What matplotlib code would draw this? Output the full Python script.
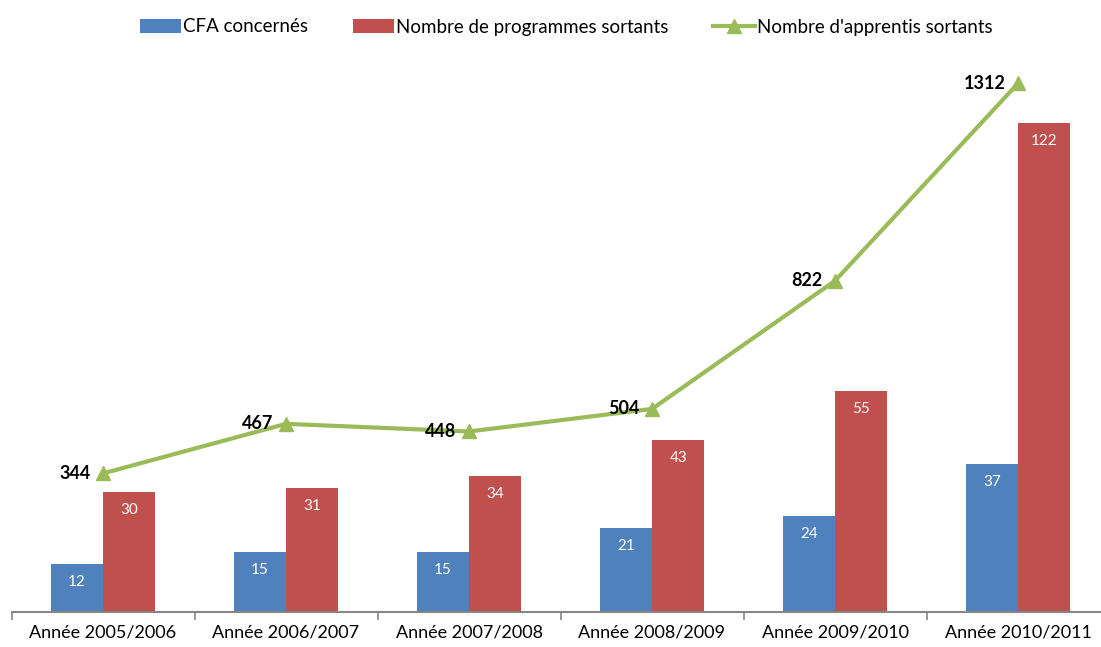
import numpy as np
import matplotlib.pyplot as plt

plt.rcParams['font.family'] = ['Lato', 'DejaVu Sans']

categories = ['Année 2005/2006', 'Année 2006/2007', 'Année 2007/2008',
              'Année 2008/2009', 'Année 2009/2010', 'Année 2010/2011']
cfa = [12, 15, 15, 21, 24, 37]
programmes = [30, 31, 34, 43, 55, 122]
apprentis = [344, 467, 448, 504, 822, 1312]

blue = '#4F81BD'
red = '#C0504D'
green = '#9BBB59'

fig = plt.figure(figsize=(11.01, 6.47), dpi=100)
W, H = 1101, 647
ax = fig.add_axes([11.5 / W, 35 / H, 1098 / W, 552 / H])
ax2 = ax.twinx()

x = np.arange(len(categories))
bw = 0.286
b1 = ax.bar(x - bw / 2, cfa, bw, color=blue, label='CFA concernés')
b2 = ax.bar(x + bw / 2, programmes, bw, color=red, label='Nombre de programmes sortants')
ax.set_xlim(-0.5, 5.5)
ax.set_ylim(0, 137.6)

for rect, v in zip(list(b1) + list(b2), cfa + programmes):
    ax.text(rect.get_x() + rect.get_width() / 2, v - 4.5, str(v),
            ha='center', va='center', color='white', fontsize=11)

ln, = ax2.plot(x, apprentis, color=green, lw=3, marker='^', markersize=10,
               label="Nombre d'apprentis sortants")
ax2.set_ylim(0, 1370)
for xi, v in zip(x, apprentis):
    ax2.annotate(str(v), (xi, v), xytext=(-9, 0), textcoords='offset points',
                 ha='right', va='center', fontsize=13, fontweight='bold', color='black')

for a in (ax, ax2):
    for s in ['top', 'left', 'right']:
        a.spines[s].set_visible(False)
    a.set_yticks([])
ax2.spines['bottom'].set_visible(False)
ax.spines['bottom'].set_color('#868686')
ax.spines['bottom'].set_linewidth(1.5)

ax.set_xticks(x)
ax.set_xticklabels(categories, fontsize=13)
ax.tick_params(axis='x', which='major', length=0, pad=9)
ax.set_xticks(np.arange(-0.5, 6, 1), minor=True)
ax.tick_params(axis='x', which='minor', length=6, width=1.2, color='#868686')

fig.legend([b1, b2, ln], [b1.get_label(), b2.get_label(), ln.get_label()],
           loc='center', bbox_to_anchor=(566 / W, 1 - 27 / H), ncol=3, frameon=False,
           fontsize=13.5, handlelength=2.2, handletextpad=0.1, columnspacing=2.4)

fig.savefig('out.png', dpi=100)
